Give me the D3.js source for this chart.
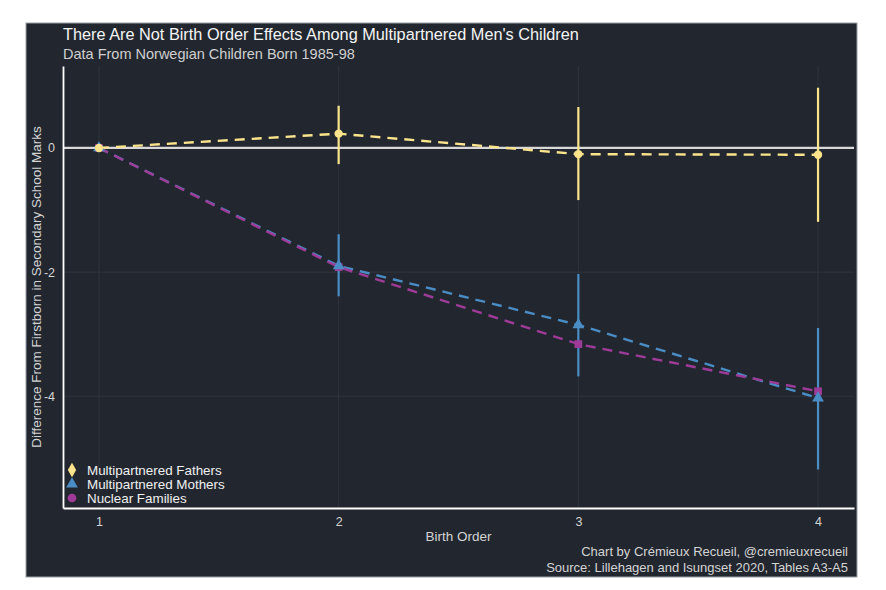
<!DOCTYPE html>
<html>
<head>
<meta charset="utf-8">
<script src="https://cdn.jsdelivr.net/npm/d3@7"></script>
<style>
  body { margin: 0; background: #ffffff; }
  svg { display: block; font-family: "Liberation Sans", Arial, sans-serif; }
</style>
</head>
<body>
<div id="chart"></div>
<script>
// data
var birthOrder = [1, 2, 3, 4];
var fathers = [0, 0.23, -0.10, -0.11];
var fathersLow = [0, -0.26, -0.84, -1.19];
var fathersHigh = [0, 0.68, 0.66, 0.97];
var mothers = [0, -1.90, -2.85, -4.03];
var mothersLow = [0, -2.39, -3.68, -5.18];
var mothersHigh = [0, -1.39, -2.03, -2.90];
var nuclear = [0, -1.92, -3.16, -3.92];
var yTicks = [-4, -2, 0];

var seriesNames = ["Multipartnered Fathers", "Multipartnered Mothers", "Nuclear Families"];
var seriesColors = ["#fbe48c", "#4a8cc4", "#9e3b98"];

var W = 886, H = 590;
var margin = {top: 66, right: 32, bottom: 82, left: 63},
    width = W - margin.left - margin.right,
    height = H - margin.top - margin.bottom;

var svg = d3.select("#chart").append("svg")
  .attr("width", W)
  .attr("height", H);

// dark panel behind everything
svg.append("rect")
  .attr("x", 26).attr("y", 23)
  .attr("width", 831).attr("height", 554)
  .attr("fill", "#22272f")
  .attr("stroke", "#9a9ea4")
  .attr("stroke-width", 1);

var g = svg.append("g")
  .attr("transform", "translate(" + margin.left + "," + margin.top + ")");

var x = d3.scaleLinear()
  .domain([0.85, 4.15])
  .range([0, width]);

var y = d3.scaleLinear()
  .domain([-5.8, 1.32])
  .range([height, 0]);

// grid
g.append("g").selectAll("line").data(birthOrder).enter().append("line")
  .attr("x1", d => x(d)).attr("x2", d => x(d))
  .attr("y1", 0).attr("y2", height)
  .attr("stroke", "#30353d").attr("stroke-width", 1);
g.append("g").selectAll("line").data(yTicks).enter().append("line")
  .attr("x1", 0).attr("x2", width)
  .attr("y1", d => y(d)).attr("y2", d => y(d))
  .attr("stroke", "#30353d").attr("stroke-width", 1);

// zero reference line
g.append("line")
  .attr("x1", 0).attr("x2", width)
  .attr("y1", y(0)).attr("y2", y(0))
  .attr("stroke", "#d8d8d8").attr("stroke-width", 2.2);

// axes
var xAxis = g.append("g")
  .attr("transform", "translate(0," + height + ")")
  .call(d3.axisBottom(x).tickValues(birthOrder).tickFormat(d3.format("d")).tickSize(0).tickPadding(9));
var yAxis = g.append("g")
  .call(d3.axisLeft(y).tickValues(yTicks).tickFormat(d => d < 0 ? "-" + Math.abs(d) : d).tickSize(0).tickPadding(8));
[xAxis, yAxis].forEach(function(a) {
  a.select(".domain").attr("stroke", "#ffffff").attr("stroke-width", 1.8);
  a.selectAll("text").attr("fill", "#d4d4d4").style("font-size", "12.5px")
    .style("font-family", "Liberation Sans, Arial, sans-serif");
});

var line = d3.line()
  .x((d, i) => x(birthOrder[i]))
  .y(d => y(d));

// error bars
function errorBars(low, high, color) {
  g.append("g").selectAll("line").data(birthOrder).enter().append("line")
    .attr("x1", d => x(d)).attr("x2", d => x(d))
    .attr("y1", (d, i) => y(low[i])).attr("y2", (d, i) => y(high[i]))
    .attr("stroke", color).attr("stroke-width", 2.2);
}
errorBars(mothersLow, mothersHigh, seriesColors[1]);
errorBars(fathersLow, fathersHigh, seriesColors[0]);

// dashed lines, nuclear drawn over mothers
var lines = [fathers, mothers, nuclear];
[mothers, nuclear, fathers].forEach(function(vals) {
  var k = lines.indexOf(vals);
  g.append("path")
    .datum(vals)
    .attr("d", line)
    .attr("fill", "none")
    .attr("stroke", seriesColors[k])
    .attr("stroke-width", 2.4)
    .attr("stroke-dasharray", "10,7");
});

// points
var symbols = [d3.symbolCircle, d3.symbolTriangle, d3.symbolSquare];
var sizes = [55, 60, 60];
[nuclear, mothers, fathers].forEach(function(vals) {
  var k = lines.indexOf(vals);
  g.append("g").selectAll("path").data(vals).enter().append("path")
    .attr("d", d3.symbol().type(symbols[k]).size(sizes[k]))
    .attr("transform", (d, i) => "translate(" + x(birthOrder[i]) + "," + y(d) + ")")
    .attr("fill", seriesColors[k]);
});

// legend
var legendSymbols = [d3.symbolDiamond, d3.symbolTriangle, d3.symbolCircle];
var legend = g.append("g")
  .attr("transform", "translate(9," + (height - 38) + ")");
seriesNames.forEach(function(name, i) {
  var row = legend.append("g").attr("transform", "translate(0," + (i * 14) + ")");
  row.append("path")
    .attr("d", d3.symbol().type(legendSymbols[i]).size(60))
    .attr("fill", seriesColors[i]);
  row.append("text")
    .attr("x", 15).attr("y", 4.5)
    .attr("fill", "#f0f0f0")
    .style("font-size", "13.4px")
    .text(name);
});

// titles
svg.append("text")
  .attr("x", 63).attr("y", 40)
  .attr("fill", "#f4f4f4")
  .style("font-size", "16.3px")
  .text("There Are Not Birth Order Effects Among Multipartnered Men's Children");
svg.append("text")
  .attr("x", 63).attr("y", 59)
  .attr("fill", "#cfcfcf")
  .style("font-size", "14.5px")
  .text("Data From Norwegian Children Born 1985-98");

// axis titles
svg.append("text")
  .attr("x", margin.left + width / 2).attr("y", 541)
  .attr("text-anchor", "middle")
  .attr("fill", "#d4d4d4")
  .style("font-size", "13.5px")
  .text("Birth Order");
svg.append("text")
  .attr("transform", "translate(41," + (margin.top + height / 2) + ") rotate(-90)")
  .attr("text-anchor", "middle")
  .attr("fill", "#d4d4d4")
  .style("font-size", "13.5px")
  .text("Difference From Firstborn in Secondary School Marks");

// captions
var caption = ["Chart by Crémieux Recueil, @cremieuxrecueil", "Source: Lillehagen and Isungset 2020, Tables A3-A5"];
caption.forEach(function(c, i) {
  svg.append("text")
    .attr("x", 848).attr("y", 556 + i * 16)
    .attr("text-anchor", "end")
    .attr("fill", "#d4d4d4")
    .style("font-size", "13px")
    .text(c);
});
</script>
</body>
</html>
